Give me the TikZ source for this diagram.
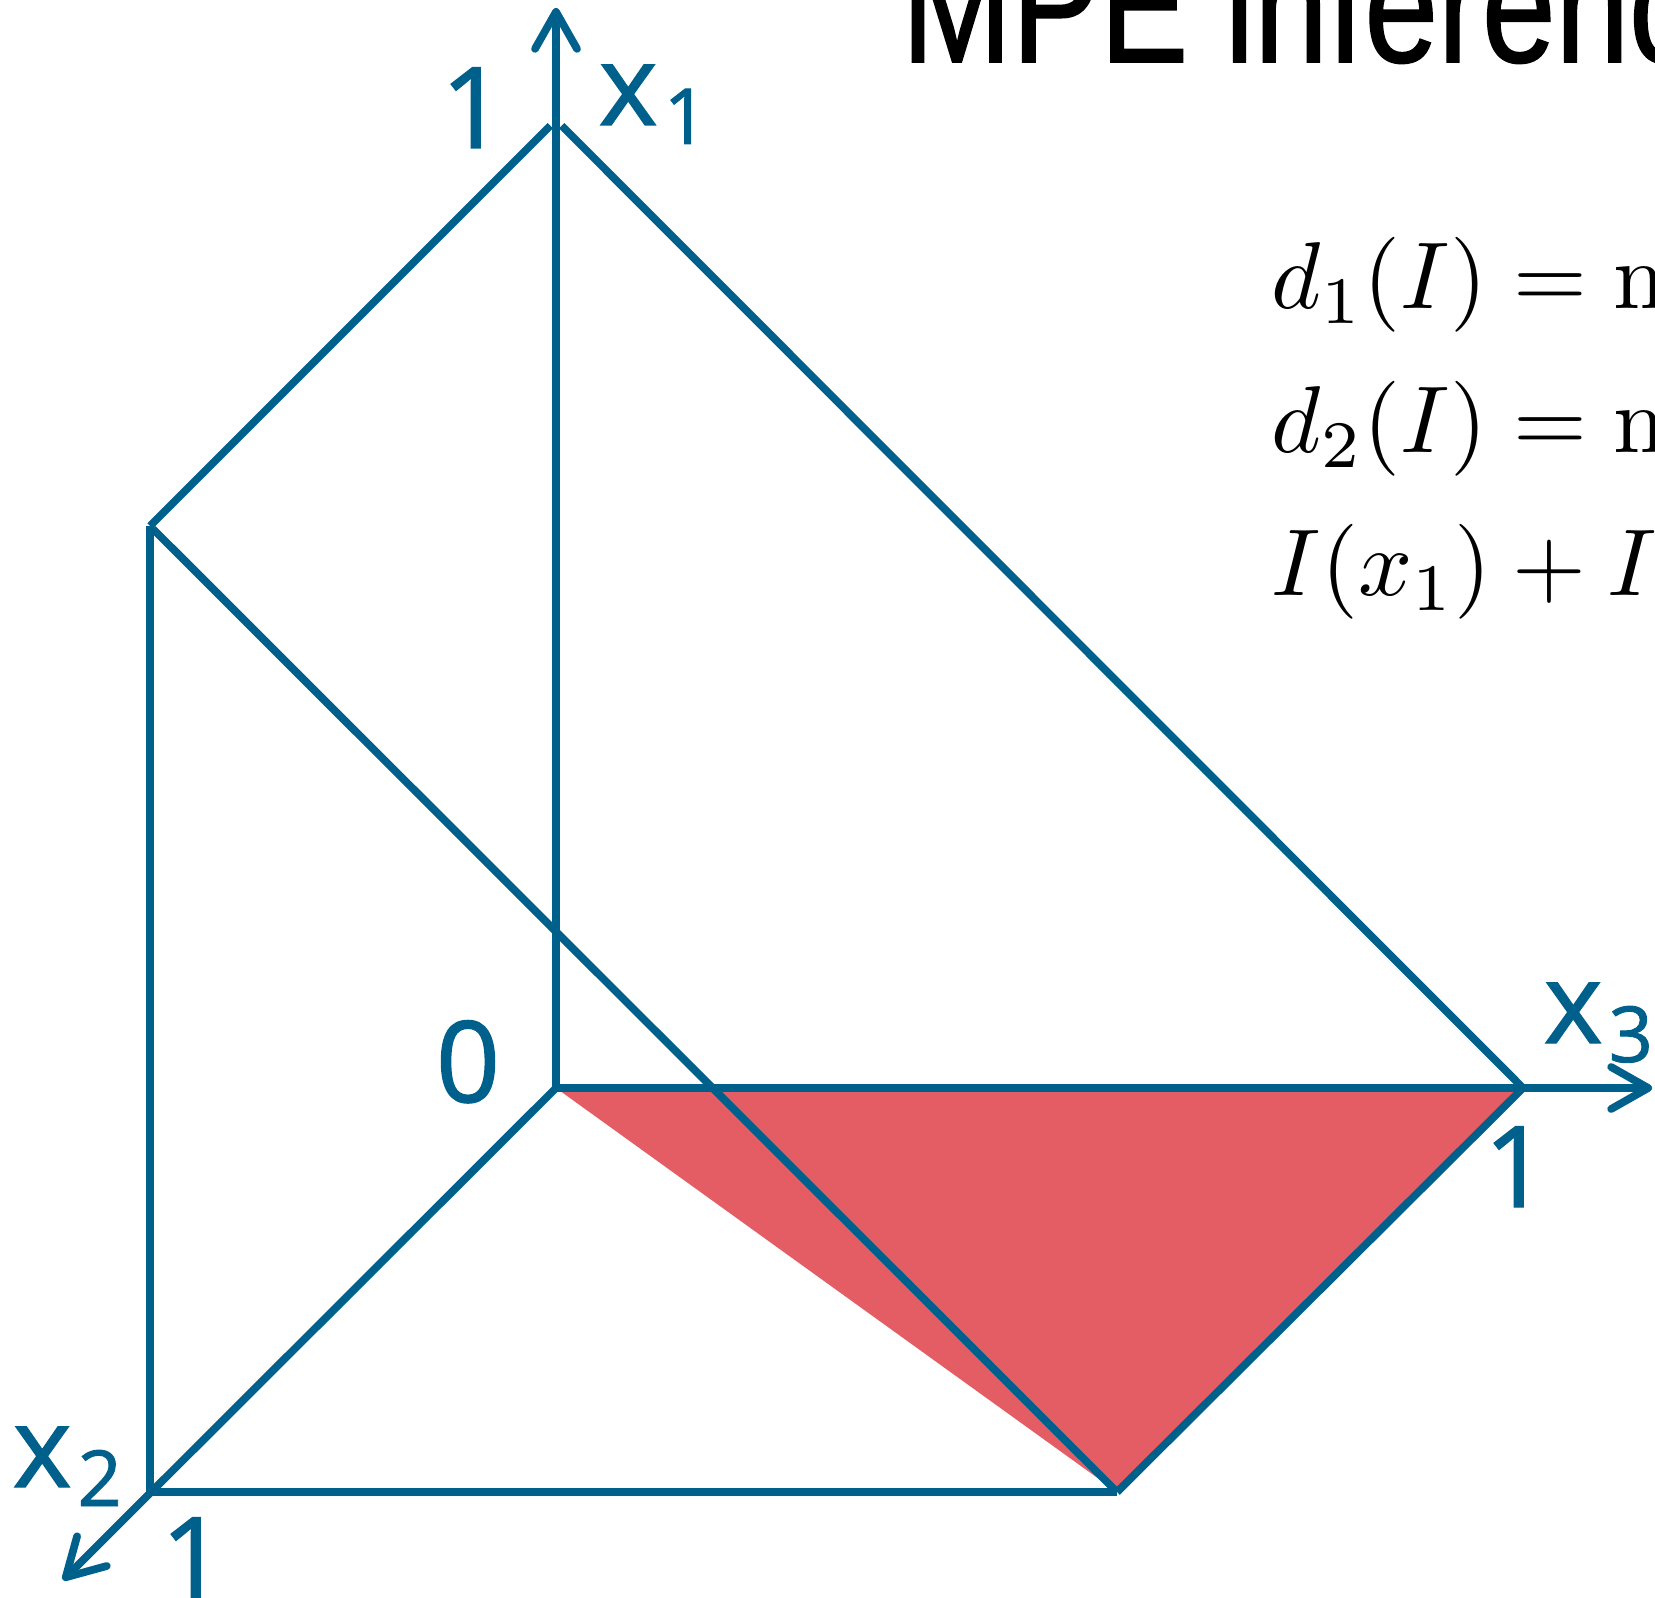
\documentclass[tikz,border=0pt]{standalone}
\usepackage{fontspec}
\newfontfamily\etiqfont[FakeBold=1.2]{Open Sans}
\newfontfamily\titfont[FakeStretch=0.8,FakeBold=1]{Liberation Sans}
\usetikzlibrary{arrows.meta}
\definecolor{azul}{HTML}{00608C}
\definecolor{rojo}{HTML}{E45C64}
\newcommand{\subind}[1]{\kern0.06cm\raisebox{-0.19cm}{\fontsize{22}{22}\selectfont #1}}

\begin{document}
\begin{tikzpicture}[x=0.01cm,y=-0.01cm]
\tikzset{
  arista/.style={draw=azul,line width=2.2pt},
  eje/.style={arista,-{Straight Barb[length=3.7mm,width=4.2mm,round]}},
  etiq/.style={text=azul,font=\etiqfont\fontsize{32}{32}\selectfont,inner sep=0pt},
  formula/.style={scale=2.7,inner sep=0pt,anchor=base west}
}
\useasboundingbox (0,0) rectangle (1655,1598);
\clip (0,0) rectangle (1655,1598);
% vertices of the prism
\coordinate (O) at (556,1088);
\coordinate (A) at (556,120);
\coordinate (B) at (1523,1088);
\coordinate (C) at (150,1492);
\coordinate (D) at (1117,1492);
\coordinate (E) at (150,526);
% axis tips
\coordinate (t1) at (556,8);
\coordinate (t2) at (63,1580);
\coordinate (t3) at (1652,1088);
\fill[rojo] (O) -- (B) -- (D) -- cycle;
\draw[arista,shorten <=0.8mm] (A) -- (E);
\draw[arista,shorten <=0.8mm] (A) -- (B);
\draw[arista] (E) -- (C);
\draw[arista,shorten <=0.4mm] (E) -- (D);
\draw[arista] (C) -- (D);
\draw[arista] (B) -- (D);
\draw[eje] (O) -- (t1);
\draw[eje] (O) -- (t3);
\draw[eje] (O) -- (t2);
% axis labels
\node[etiq,anchor=base] (uno1) at (473,148) {1};
\node[etiq,anchor=base west] (x1) at (598,125) {x\subind{1}};
\node[etiq,anchor=base] (cero) at (468,1102) {0};
\node[etiq,anchor=base west] (x3) at (1543,1043) {x\subind{3}};
\node[etiq,anchor=base] (uno3) at (1516,1207) {1};
\node[etiq,anchor=base west] (x2) at (12,1487) {x\subind{2}};
\node[etiq,anchor=base] (uno2) at (193,1598) {1};
% title and formulas
\node[anchor=base west,inner sep=0pt,font=\titfont\fontsize{47}{47}\selectfont] (titulo) at (901,62) {MPE inference};
\node[formula] (d1) at (1270,309) {$d_1(I) = \mathrm{m}$};
\node[formula] (d2) at (1270,453) {$d_2(I) = \mathrm{m}$};
\node[formula] (suma) at (1270,596) {$I(x_1) + I$};
\end{tikzpicture}
\end{document}
